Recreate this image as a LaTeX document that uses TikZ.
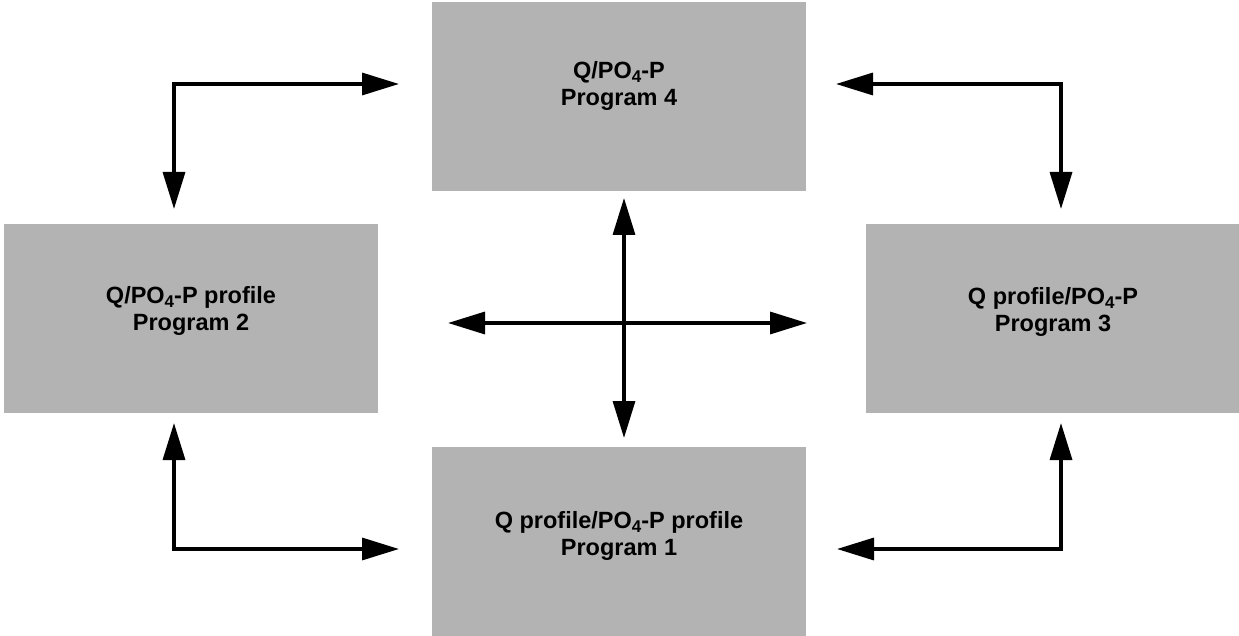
\documentclass[tikz,border=0pt]{standalone}
\usepackage{fontspec}
\setmainfont{Liberation Sans}
\usetikzlibrary{arrows.meta,calc}
\definecolor{boxgray}{RGB}{179,179,179}
\newcommand{\subfour}{\raisebox{-0.3ex}{\fontsize{17}{17}\selectfont 4}}
\tikzset{
  progbox/.style={fill=boxgray,draw=none,minimum width=374pt,minimum height=189pt,inner sep=0pt,outer sep=0pt},
  progtext/.style={align=center,font=\fontsize{23.5}{27}\selectfont\bfseries,inner sep=0pt},
  conn/.style={line width=3.3pt,{Triangle[length=37pt,width=22pt]}-{Triangle[length=37pt,width=22pt]}}
}
\begin{document}
\begin{tikzpicture}[x=1pt,y=-1pt]
\useasboundingbox (0,0) rectangle (1239,636);
\node[progbox] (b4) at (619,96.5) {};
\node[progbox] (b2) at (191,318.5) {};
\node[progbox] (b3) at (1053,318.5) {};
\node[progbox] (b1) at (619,541.5) {};
\node[progtext] (t4) at (619,86) {Q/PO\subfour-P\\Program 4};
\node[progtext] (t2) at (191,311) {Q/PO\subfour-P profile\\Program 2};
\node[progtext] (t3) at (1053,312) {Q profile/PO\subfour-P\\Program 3};
\node[progtext] (t1) at (619,536) {Q profile/PO\subfour-P profile\\Program 1};
\coordinate (cTL) at (174,84);
\coordinate (cTR) at (1061,84);
\coordinate (cBL) at (174,549);
\coordinate (cBR) at (1061,549);
\coordinate (cX) at (624,323);
\draw[conn,shorten <=33pt,shorten >=15pt] (b4.west |- cTL) -- (cTL) -- (b2.north -| cTL);
\draw[conn,shorten <=30pt,shorten >=15pt] (b4.east |- cTR) -- (cTR) -- (b3.north -| cTR);
\draw[conn,shorten <=10pt,shorten >=33pt] (b2.south -| cBL) -- (cBL) -- (b1.west |- cBL);
\draw[conn,shorten <=31pt,shorten >=10pt] (b1.east |- cBR) -- (cBR) -- (b3.south -| cBR);
\draw[conn,shorten <=7pt,shorten >=9pt] (b4.south -| cX) -- (b1.north -| cX);
\draw[conn,shorten <=70pt,shorten >=59pt] (b2.east |- cX) -- (b3.west |- cX);
\end{tikzpicture}
\end{document}
